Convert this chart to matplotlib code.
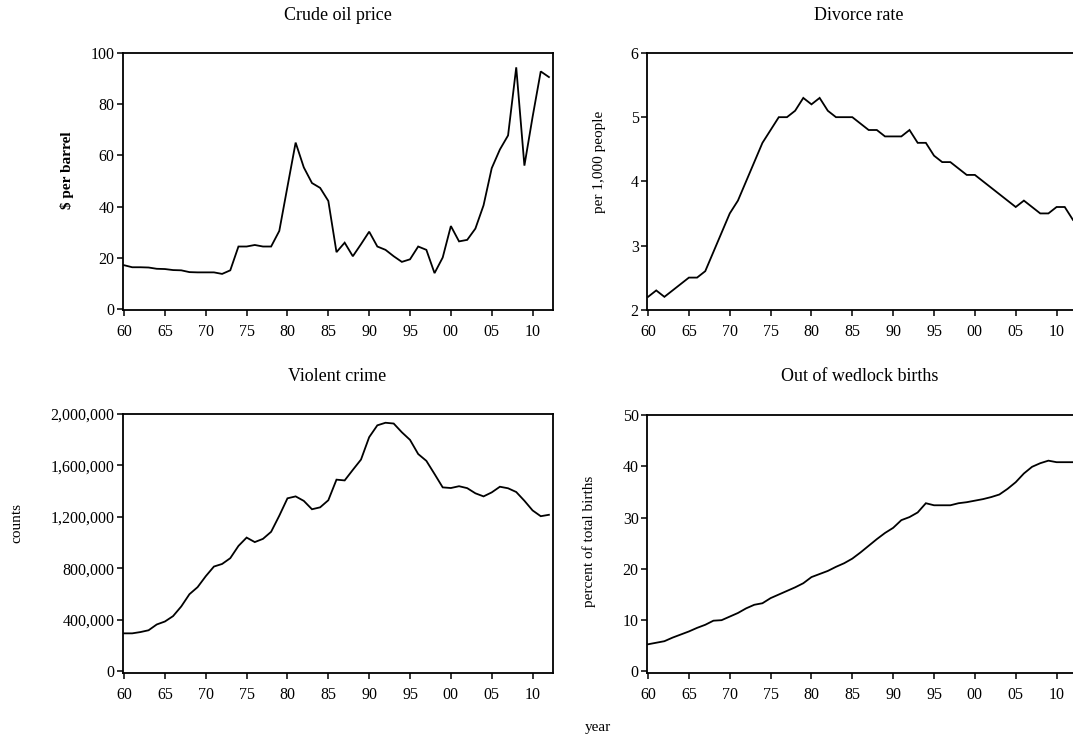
import matplotlib
matplotlib.use("Agg")
import matplotlib.pyplot as plt
from matplotlib.ticker import FixedLocator, FixedFormatter, FuncFormatter

plt.rcParams['font.family'] = ['Liberation Serif', 'DejaVu Serif']

W, H = 1073, 738

years = list(range(1960, 2013))

# Real crude oil price, $ per barrel
oil_price = [17.1, 16.3, 16.3, 16.2, 15.7, 15.6, 15.2, 15.1, 14.4, 14.3,
             14.3, 14.3, 13.7, 15.1, 24.4, 24.4, 25.0, 24.4, 24.4, 30.5,
             47.8, 65.0, 55.3, 49.2, 47.3, 42.2, 22.2, 25.9, 20.6, 25.3,
             30.2, 24.4, 23.1, 20.6, 18.4, 19.4, 24.4, 23.1, 14.0, 20.1,
             32.4, 26.4, 27.0, 31.4, 40.5, 55.0, 62.3, 67.8, 94.4, 56.0,
             75.0, 92.8, 90.6]

# Divorces per 1,000 people
divorce_rate = [2.2, 2.3, 2.2, 2.3, 2.4, 2.5, 2.5, 2.6, 2.9, 3.2,
                3.5, 3.7, 4.0, 4.3, 4.6, 4.8, 5.0, 5.0, 5.1, 5.3,
                5.2, 5.3, 5.1, 5.0, 5.0, 5.0, 4.9, 4.8, 4.8, 4.7,
                4.7, 4.7, 4.8, 4.6, 4.6, 4.4, 4.3, 4.3, 4.2, 4.1,
                4.1, 4.0, 3.9, 3.8, 3.7, 3.6, 3.7, 3.6, 3.5, 3.5,
                3.6, 3.6, 3.4]

# Violent crime, counts
violent_crime = [296000, 296000, 306000, 320000, 365000, 388000, 430000, 505000, 600000, 655000,
                 740000, 815000, 835000, 880000, 975000, 1040000, 1005000, 1030000, 1085000, 1210000,
                 1345000, 1360000, 1325000, 1260000, 1275000, 1330000, 1490000, 1484000, 1566000, 1646000,
                 1820000, 1912000, 1932000, 1926000, 1858000, 1799000, 1689000, 1636000, 1534000, 1430000,
                 1425000, 1439000, 1424000, 1384000, 1360000, 1391000, 1435000, 1423000, 1394000, 1326000,
                 1251000, 1206000, 1217000]

# Out of wedlock births, percent of total births
out_of_wedlock = [5.3, 5.6, 5.9, 6.6, 7.2, 7.8, 8.5, 9.1, 9.9, 10.0,
                  10.7, 11.4, 12.3, 13.0, 13.3, 14.3, 15.0, 15.7, 16.4, 17.2,
                  18.4, 19.0, 19.6, 20.4, 21.1, 22.0, 23.2, 24.5, 25.8, 27.0,
                  28.0, 29.5, 30.1, 31.0, 32.8, 32.4, 32.4, 32.4, 32.8, 33.0,
                  33.3, 33.6, 34.0, 34.5, 35.6, 36.9, 38.6, 39.9, 40.6, 41.1,
                  40.8, 40.8, 40.8]

x_ticks = [1960, 1965, 1970, 1975, 1980, 1985, 1990, 1995, 2000, 2005, 2010]
x_tick_labels = ['60', '65', '70', '75', '80', '85', '90', '95', '00', '05', '10']

panels = [
    dict(title='Crude oil price', ylabel='$ per barrel', data=oil_price,
         yticks=[0, 20, 40, 60, 80, 100], ylim=(-0.4, 100), bold=True,
         box=(123, 53, 553, 310), comma=False),
    dict(title='Divorce rate', ylabel='per 1,000 people', data=divorce_rate,
         yticks=[2, 3, 4, 5, 6], ylim=(1.995, 6), bold=False,
         box=(647, 53, 1077, 310), comma=False),
    dict(title='Violent crime', ylabel='counts', data=violent_crime,
         yticks=[0, 400000, 800000, 1200000, 1600000, 2000000], ylim=(-12000, 2000000),
         bold=False, box=(123, 414, 553, 673), comma=True),
    dict(title='Out of wedlock births', ylabel='percent of total births', data=out_of_wedlock,
         yticks=[0, 10, 20, 30, 40, 50], ylim=(-0.3, 50), bold=False,
         box=(647, 415, 1077, 673), comma=False),
]

fig = plt.figure(figsize=(W / 100, H / 100), dpi=100)
fig.patch.set_facecolor('white')

def fx(px):
    return px / W

def fy(py):
    return 1 - py / H

title_pos = [(338, 16), (859, 16), (337, 377), (860, 377)]
ylabel_pos = [(67, 170), (600, 162), (17, 523), (589, 541)]

for p, tpos, lpos in zip(panels, title_pos, ylabel_pos):
    l, t, r, b = p['box']
    ax = fig.add_axes([fx(l), fy(b), (r - l) / W, (b - t) / H])
    ax.plot(years, p['data'], color='black', lw=1.3, solid_joinstyle='miter')
    ax.set_xlim(1959.87, 2012.5)
    ax.set_ylim(*p['ylim'])
    ax.xaxis.set_major_locator(FixedLocator(x_ticks))
    ax.xaxis.set_major_formatter(FixedFormatter(x_tick_labels))
    ax.yaxis.set_major_locator(FixedLocator(p['yticks']))
    if p['comma']:
        ax.yaxis.set_major_formatter(FuncFormatter(lambda v, _: f'{int(v):,}'))
    else:
        ax.yaxis.set_major_formatter(FuncFormatter(lambda v, _: f'{int(v)}'))
    ax.tick_params(axis='both', direction='out', length=4, width=1.1,
                   labelsize=11.5, colors='black', top=False, right=False)
    ax.tick_params(axis='x', pad=6)
    ax.tick_params(axis='y', pad=2)
    for s in ax.spines.values():
        s.set_linewidth(1.3)
        s.set_color('black')
    fig.text(fx(tpos[0]), fy(tpos[1]), p['title'], ha='center', va='center', fontsize=13)
    fig.text(fx(lpos[0]), fy(lpos[1]), p['ylabel'], ha='center', va='center',
             rotation=90, fontsize=11, fontweight='bold' if p['bold'] else 'normal')

fig.text(fx(598), fy(727), 'year', ha='center', va='center', fontsize=11)

fig.savefig('out.png', dpi=100, facecolor='white')
